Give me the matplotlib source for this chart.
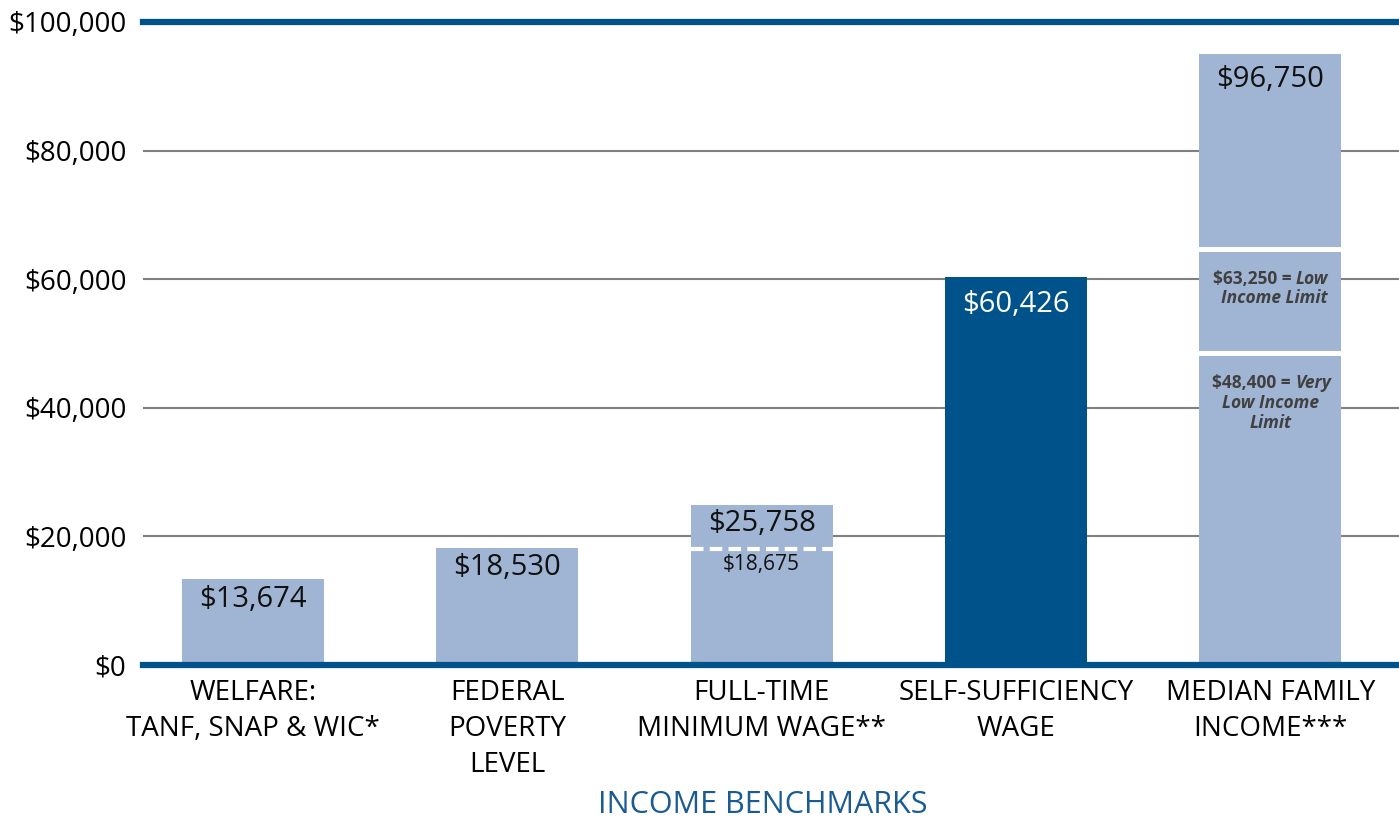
import matplotlib
matplotlib.use("Agg")
import matplotlib.pyplot as plt

# income benchmarks, values
categories = ["WELFARE:\nTANF, SNAP & WIC*", "FEDERAL\nPOVERTY\nLEVEL",
              "FULL-TIME\nMINIMUM WAGE**", "SELF-SUFFICIENCY\nWAGE",
              "MEDIAN FAMILY\nINCOME***"]
bar_values = [13400, 18200, 24900, 60300, 95000]
bar_labels = ["$13,674", "$18,530", "$25,758", "$60,426", "$96,750"]

# full-time minimum wage: lower (dashed) level
min_wage_low = 18000
min_wage_low_label = "$18,675"

# median family income segments (bottom, top)
median_segments = [(0, 48000), (48800, 64300), (65000, 95000)]

yticks = [0, 20000, 40000, 60000, 80000, 100000]
ytick_labels = ["$0", "$20,000", "$40,000", "$60,000", "$80,000", "$100,000"]

LIGHT = "#a0b5d3"
DARK = "#00538a"

plt.rcParams['font.family'] = ['Open Sans', 'DejaVu Sans']

fig = plt.figure(figsize=(13.99, 8.23), dpi=100)
ax = fig.add_axes([143/1399, 1 - 665/823, 1 - 143/1399, (665 - 22)/823])

x = list(range(len(categories)))
width = 0.558
colors = [LIGHT, LIGHT, LIGHT, DARK, LIGHT]

for i in range(4):
    ax.bar(x[i], bar_values[i], width=width, color=colors[i], zorder=2)
for b, t in median_segments:
    ax.bar(x[4], t - b, bottom=b, width=width, color=LIGHT, zorder=2)

# dashed split on the minimum wage bar
ax.hlines(min_wage_low, x[2] - width/2, x[2] + width/2, colors="white",
          linewidth=3, linestyles=(0, (3, 1.5)), zorder=3)

ax.set_xlim(-0.4325, 4.506)
ax.set_ylim(0, 100000)
ax.grid(axis="y", color="#808080", linewidth=1.5, zorder=0)
ax.axhline(0, color=DARK, linewidth=4.5, zorder=4, clip_on=False)
ax.axhline(100000, color=DARK, linewidth=4.5, zorder=4, clip_on=False)

for s in ax.spines.values():
    s.set_visible(False)
ax.tick_params(length=0)
ax.set_yticks(yticks)
ax.set_yticklabels(ytick_labels, fontsize=20)
ax.tick_params(axis="y", pad=12)
ax.set_xticks(x)
ax.set_xticklabels(categories, fontsize=20, linespacing=1.38)
ax.tick_params(axis="x", pad=10)
ax.set_xlabel("INCOME BENCHMARKS", fontsize=22, color="#1a5b92", labelpad=8)
ax.xaxis.label.set_x((763 - 143) / 1256)

# value labels
label_y = [12500, 17400, 24200, 58300, 93300]
label_colors = ["#111111", "#111111", "#111111", "white", "#111111"]
for i in range(5):
    ax.text(x[i], label_y[i], bar_labels[i], ha="center", va="top",
            fontsize=21, color=label_colors[i], zorder=5)
ax.text(x[2], 15700, min_wage_low_label, ha="center", va="center",
        fontsize=15, color="#111111", zorder=5)

# median income limits
gray = "#404040"
fs = 12.5
ax.text(x[4] + 0.1, 60000, "$63,250 = ", ha="right", va="center", fontsize=fs,
        fontweight="bold", color=gray, zorder=5)
ax.text(x[4] + 0.1, 60000, "Low", ha="left", va="center", fontsize=fs,
        fontweight="bold", style="italic", color=gray, zorder=5)
ax.text(x[4] + 0.015, 57000, "Income Limit", ha="center", va="center", fontsize=fs,
        fontweight="bold", style="italic", color=gray, zorder=5)

ax.text(x[4] + 0.097, 43900, "$48,400 = ", ha="right", va="center", fontsize=fs,
        fontweight="bold", color=gray, zorder=5)
ax.text(x[4] + 0.097, 43900, "Very", ha="left", va="center", fontsize=fs,
        fontweight="bold", style="italic", color=gray, zorder=5)
ax.text(x[4], 40800, "Low Income", ha="center", va="center", fontsize=fs,
        fontweight="bold", style="italic", color=gray, zorder=5)
ax.text(x[4], 37700, "Limit", ha="center", va="center", fontsize=fs,
        fontweight="bold", style="italic", color=gray, zorder=5)

fig.savefig("out.png", dpi=100)
